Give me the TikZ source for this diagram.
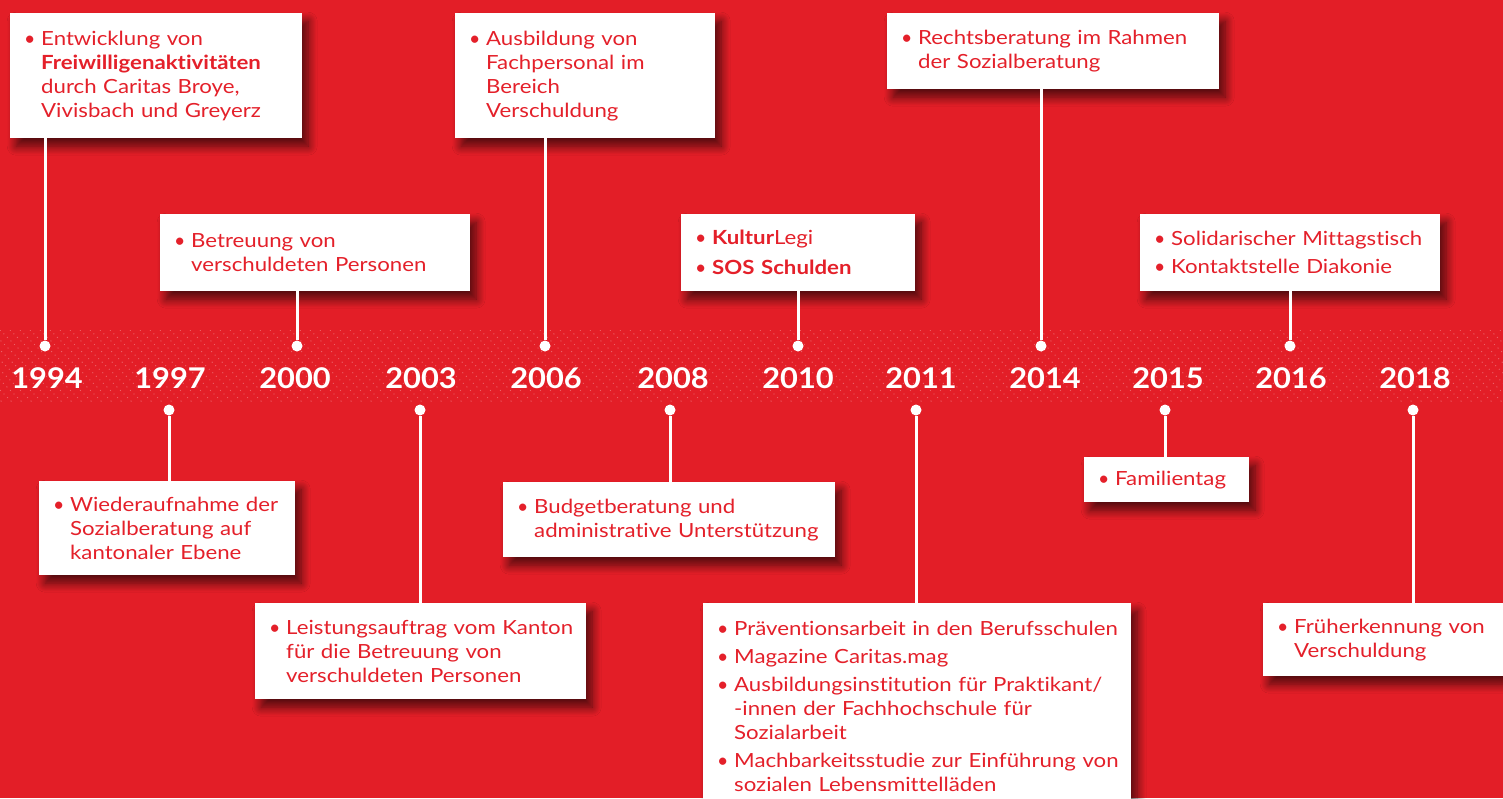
\documentclass[tikz,border=0pt]{standalone}
\usepackage{fontspec}
\setmainfont{Lato}[FakeStretch=1.14, Ligatures=NoCommon]
\newfontfamily\yearfont{Lato}[FakeStretch=1.08, Ligatures=NoCommon]
\newfontfamily\bulfont{Lato}
\usetikzlibrary{shadows.blur}
\definecolor{bgred}{HTML}{E31E27}
\definecolor{txtred}{HTML}{E4202A}
\newcommand\bul{\makebox[19pt][l]{\hspace{2pt}{\bulfont\textbullet}}}
\newcommand\ind{\hspace*{19pt}}
\tikzset{
  x=1pt, y=-1pt,
  box/.style={fill=white, anchor=north west, inner xsep=12pt, inner ysep=0pt, align=left,
    font={\fontsize{19.5}{24}\selectfont\hyphenpenalty=10000\exhyphenpenalty=10000}, text=txtred,
    blur shadow={shadow xshift=6pt, shadow yshift=-8pt, shadow blur steps=12, shadow blur radius=9pt, shadow opacity=65}},
  yearlbl/.style={font={\yearfont\fontsize{28.5}{30}\selectfont\bfseries}, text=white},
  tdot/.style={circle, fill=white, inner sep=0pt, minimum size=11pt},
  conn/.style={white, line width=3pt}
}
\begin{document}
\begin{tikzpicture}
\useasboundingbox (0,0) rectangle (1503,798);
\fill[bgred] (0,0) rectangle (1503,798);
% hatched band
\begin{scope}
  \clip (0,330) rectangle (1503,403);
  \foreach \i in {-100,-90,...,1600}
    \draw[white, opacity=0.3, line width=1pt, dash pattern=on 1pt off 4pt] (\i,330) -- ++(80,80);
\end{scope}

% years
\node[yearlbl] (y1994) at (47,378) {1994};
\node[yearlbl] (y1997) at (170,378) {1997};
\node[yearlbl] (y2000) at (295,378) {2000};
\node[yearlbl] (y2003) at (421,378) {2003};
\node[yearlbl] (y2006) at (546,378) {2006};
\node[yearlbl] (y2008) at (673,378) {2008};
\node[yearlbl] (y2010) at (798,378) {2010};
\node[yearlbl] (y2011) at (921,378) {2011};
\node[yearlbl] (y2014) at (1045,378) {2014};
\node[yearlbl] (y2015) at (1168,378) {2015};
\node[yearlbl] (y2016) at (1291,378) {2016};
\node[yearlbl] (y2018) at (1415,378) {2018};

% dots
\node[tdot] (d1994) at (45,346) {};
\node[tdot] (d1997) at (169,410) {};
\node[tdot] (d2000) at (297,346) {};
\node[tdot] (d2003) at (420,410) {};
\node[tdot] (d2006) at (545,346) {};
\node[tdot] (d2008) at (670,410) {};
\node[tdot] (d2010) at (798,346) {};
\node[tdot] (d2011) at (916,410) {};
\node[tdot] (d2014) at (1041,346) {};
\node[tdot] (d2015) at (1165,410) {};
\node[tdot] (d2016) at (1290,346) {};
\node[tdot] (d2018) at (1413,410) {};

% boxes
\node[box, text width=268pt, minimum height=125pt] (b1994) at (10,13)
  {\bul Entwicklung von\\ \ind\textbf{Freiwilligenaktivitäten}\\ \ind durch Caritas Broye,\\ \ind Vivisbach und Greyerz};
\node[box, text width=232pt, minimum height=94pt] (b1997) at (39,481)
  {\bul Wiederaufnahme der\\ \ind Sozialberatung auf\\ \ind kantonaler Ebene};
\node[box, text width=286pt, minimum height=77pt] (b2000) at (160,214)
  {\bul Betreuung von\\ \ind verschuldeten Personen};
\node[box, text width=307pt, minimum height=96pt] (b2003) at (255,603)
  {\bul Leistungsauftrag vom Kanton\\ \ind für die Betreuung von\\ \ind verschuldeten Personen};
\node[box, text width=236pt, minimum height=125pt] (b2006) at (455,13)
  {\bul Ausbildung von\\ \ind Fachpersonal im\\ \ind Bereich\\ \ind Verschuldung};
\node[box, text width=308pt, minimum height=75pt] (b2008) at (503,482)
  {\bul Budgetberatung und\\ \ind administrative Unterstützung};
\node[box, text width=210pt, minimum height=77pt] (b2010) at (681,214)
  {\bul\textbf{Kultur}Legi\\[6pt] \bul\textbf{SOS Schulden}};
\node[box, text width=404pt, minimum height=206pt] (b2011) at (703,603)
  {\bul Präventionsarbeit in den Berufsschulen\\[4pt]
   \bul Magazine Caritas.mag\\[4pt]
   \bul Ausbildungsinstitution für Praktikant/\\ \ind -innen der Fachhochschule für\\ \ind Sozialarbeit\\[4pt]
   \bul Machbarkeitsstudie zur Einführung von\\ \ind sozialen Lebensmittelläden};
\node[box, text width=308pt, minimum height=76pt] (b2014) at (887,13)
  {\bul Rechtsberatung im Rahmen\\ \ind der Sozialberatung};
\node[box, text width=141pt, minimum height=45pt] (b2015) at (1084,457)
  {\bul Familientag};
\node[box, text width=276pt, minimum height=77pt] (b2016) at (1140,214)
  {\bul Solidarischer Mittagstisch\\[4pt] \bul Kontaktstelle Diakonie};
\node[box, text width=240pt, minimum height=73pt] (b2018) at (1263,603)
  {\bul Früherkennung von\\ \ind Verschuldung};

% connectors
\draw[conn] (b1994.south -| d1994) -- (d1994);
\draw[conn] (d1997) -- (b1997.north -| d1997);
\draw[conn] (b2000.south -| d2000) -- (d2000);
\draw[conn] (d2003) -- (b2003.north -| d2003);
\draw[conn] (b2006.south -| d2006) -- (d2006);
\draw[conn] (d2008) -- (b2008.north -| d2008);
\draw[conn] (b2010.south -| d2010) -- (d2010);
\draw[conn] (d2011) -- (b2011.north -| d2011);
\draw[conn] (b2014.south -| d2014) -- (d2014);
\draw[conn] (d2015) -- (b2015.north -| d2015);
\draw[conn] (b2016.south -| d2016) -- (d2016);
\draw[conn] (d2018) -- (b2018.north -| d2018);
\end{tikzpicture}
\end{document}
